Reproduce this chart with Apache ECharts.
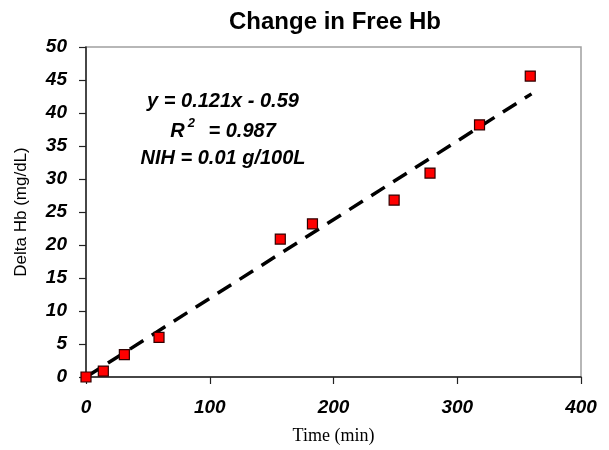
<!DOCTYPE html>
<html>
<head>
<meta charset="utf-8" />
<title>Change in Free Hb</title>
<script src="https://cdn.jsdelivr.net/npm/echarts@6/dist/echarts.min.js"></script>
<style>
body { margin: 0; padding: 0; background: #fff; }
#main { width: 609px; height: 450px; }
</style>
</head>
<body>
<div id="main"></div>
<script type="text/javascript">
var timeMin = [0, 14, 31, 59, 157, 183, 249, 278, 318, 359];
var deltaHb = [0, 0.9, 3.4, 6.0, 20.9, 23.2, 26.8, 30.9, 38.2, 45.6];
var trendX = [0, 360];
var trendY = [0, 42.9];
var eqLines = ['y = 0.121x - 0.59', 'R{sup|2} = 0.987', 'NIH = 0.01 g/100L'];

var points = timeMin.map(function (t, i) { return [t, deltaHb[i]]; });
var trend = trendX.map(function (t, i) { return [t, trendY[i]]; });

var mychart = echarts.init(document.getElementById('main'));
var labelFont = { fontFamily: 'Liberation Sans', fontWeight: 'bold', fontStyle: 'italic', fontSize: 19, color: '#000' };

mychart.setOption({
  animation: false,
  title: {
    text: 'Change in Free Hb',
    left: 330, top: 5, textAlign: 'center',
    textStyle: { fontFamily: 'Liberation Sans', fontWeight: 'bold', fontSize: 24, color: '#000' }
  },
  grid: {
    left: 86, right: 28, top: 47, bottom: 68,
    show: true, borderColor: '#a0a0a0', borderWidth: 1.5
  },
  xAxis: {
    type: 'value', min: 0, max: 400, interval: 100,
    name: 'Time (min)', nameLocation: 'middle', nameGap: 50,
    nameTextStyle: { fontFamily: 'Liberation Serif', fontSize: 18, color: '#000' },
    axisLine: { show: true, onZero: false, lineStyle: { color: '#222', width: 1.5 } },
    axisTick: { show: true, length: 7, lineStyle: { color: '#222', width: 1.2 } },
    axisLabel: Object.assign({ margin: 21 }, labelFont),
    splitLine: { show: false }
  },
  yAxis: {
    type: 'value', min: 0, max: 50, interval: 5,
    name: 'Delta Hb (mg/dL)', nameLocation: 'middle', nameGap: 56,
    nameTextStyle: { fontFamily: 'Liberation Sans', fontSize: 17, color: '#000' },
    axisLine: { show: true, onZero: false, lineStyle: { color: '#222', width: 1.5 } },
    axisTick: { show: true, length: 7, lineStyle: { color: '#222', width: 1.2 } },
    axisLabel: Object.assign({ margin: 19 }, labelFont),
    splitLine: { show: false }
  },
  graphic: eqLines.map(function (s, i) {
    return {
      type: 'text', x: 223, y: [101, 131, 158][i], z: 10,
      style: {
        text: s, textAlign: 'center', textVerticalAlign: 'middle',
        font: 'italic bold 20px "Liberation Sans"', fill: '#000',
        rich: { sup: { fontSize: 13, fontStyle: 'italic', fontWeight: 'bold', fontFamily: 'Liberation Sans', padding: [0, 8, 16, 3] } }
      }
    };
  }),
  series: [
    {
      name: 'trend', type: 'line', data: trend, symbol: 'none', z: 2,
      lineStyle: { color: '#000', width: 3.5, type: [16, 10] }
    },
    {
      name: 'data', type: 'scatter', data: points, symbol: 'rect', symbolSize: 10, z: 3,
      itemStyle: { color: '#ff0000', borderColor: '#300000', borderWidth: 1.2, opacity: 1 }
    }
  ]
});
</script>
</body>
</html>
